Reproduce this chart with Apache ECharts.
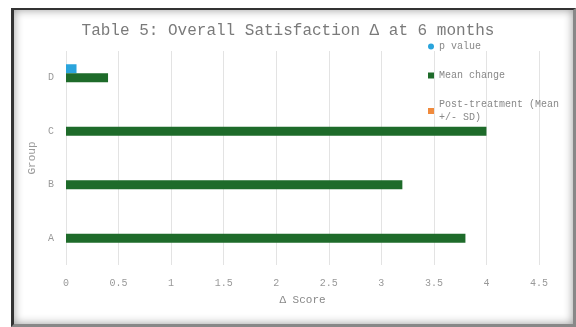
<!DOCTYPE html>
<html>
<head>
<meta charset="utf-8">
<script src="https://cdn.jsdelivr.net/npm/echarts@6/dist/echarts.min.js"></script>
<style>
html, body { margin: 0; padding: 0; background: #fff; }
#frame {
    position: absolute; left: 11px; top: 8px; right: 0; bottom: 0;
    border-left: 3px solid #333; border-top: 2px solid #333;
    border-right: 3px solid #888; border-bottom: 3px solid #888;
    box-shadow: inset 0 0 10px #9a9a9a;
}
#chart { position: absolute; left: 0; top: 0; width: 576px; height: 327px; }
</style>
</head>
<body>
<div id="frame"></div>
<div id="chart"></div>
<script>
const categories = ['A', 'B', 'C', 'D']
const pValue = [0, 0, 0, 0.1]
const meanChange = [3.8, 3.2, 4.0, 0.4]
const postTreatment = [0, 0, 0, 0]
const xTicks = { min: 0, max: 4.5, interval: 0.5 }

const mono = '"Liberation Mono", "DejaVu Sans Mono", monospace'

let chart = echarts.init(document.querySelector('#chart'))
chart.setOption({
    backgroundColor: 'transparent',
    textStyle: { fontFamily: mono },
    title: {
        text: 'Table 5: Overall Satisfaction Δ at 6 months',
        left: 'center',
        top: 18,
        textStyle: { fontFamily: mono, fontSize: 16, fontWeight: 'normal', color: '#7a7a7a' }
    },
    legend: {
        orient: 'vertical',
        left: 423,
        top: 35,
        itemWidth: 6,
        itemHeight: 6,
        itemGap: 16,
        data: [
            { name: 'p value', icon: 'circle' },
            { name: 'Mean change', icon: 'rect' },
            { name: 'Post-treatment (Mean +/- SD)', icon: 'rect' }
        ],
        textStyle: { fontFamily: mono, fontSize: 10, color: '#888', width: 130, overflow: 'break', lineHeight: 13 }
    },
    grid: { left: 66, right: 37, top: 51, bottom: 62 },
    xAxis: {
        type: 'value',
        min: xTicks.min,
        max: xTicks.max,
        interval: xTicks.interval,
        name: 'Δ Score',
        nameLocation: 'middle',
        nameGap: 30,
        nameTextStyle: { fontFamily: mono, fontSize: 11, color: '#888' },
        axisLine: { show: false },
        axisTick: { show: false },
        axisLabel: { fontFamily: mono, fontSize: 10, color: '#999', margin: 13 },
        splitLine: { lineStyle: { color: '#e3e3e3' } }
    },
    yAxis: {
        type: 'category',
        data: categories,
        name: 'Group',
        nameLocation: 'middle',
        nameGap: 28,
        nameTextStyle: { fontFamily: mono, fontSize: 11, color: '#999' },
        axisLine: { show: false },
        axisTick: { show: false },
        axisLabel: { fontFamily: mono, fontSize: 10, color: '#999', margin: 12 }
    },
    series: [
        {
            name: 'p value',
            type: 'bar',
            data: pValue,
            barWidth: 9,
            barGap: '0%',
            itemStyle: { color: '#2aa4dc' }
        },
        {
            name: 'Mean change',
            type: 'bar',
            data: meanChange,
            barWidth: 9,
            barGap: '0%',
            itemStyle: { color: '#1e6b2a' }
        },
        {
            name: 'Post-treatment (Mean +/- SD)',
            type: 'bar',
            data: postTreatment,
            barWidth: 9,
            barGap: '0%',
            itemStyle: { color: '#f08a3c' }
        }
    ]
})
</script>
</body>
</html>
